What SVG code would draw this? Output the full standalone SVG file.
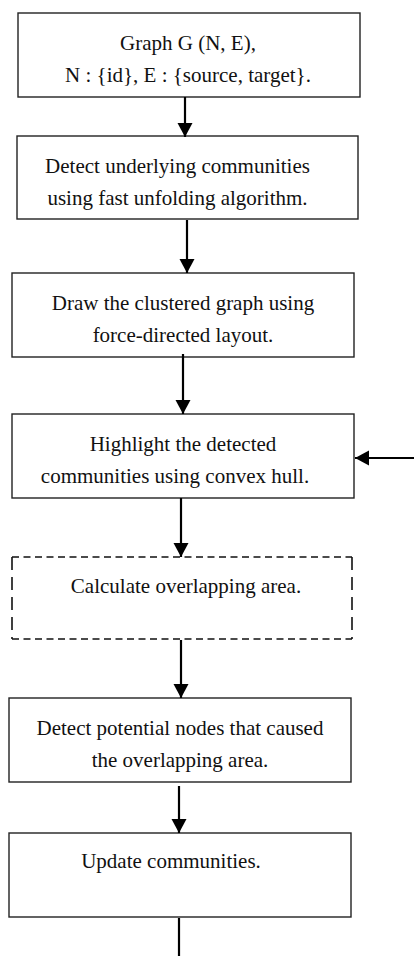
<svg xmlns="http://www.w3.org/2000/svg" width="414" height="956" viewBox="0 0 414 956">
<defs>
<marker id="ah" markerUnits="userSpaceOnUse" markerWidth="16" markerHeight="16" refX="14" refY="8" orient="auto">
<path d="M0,0.5 L14,8 L0,15.5 Z" fill="#000"/>
</marker>
<style>
.box{fill:#fff;stroke:#222;stroke-width:1.4}
.dash{stroke:#111;stroke-width:1.6;fill:none}
.t{font-family:"Liberation Serif","Times New Roman",serif;font-size:21px;fill:#111;text-anchor:middle}
.c{stroke:#000;stroke-width:2.2;fill:none}
.ca{stroke:#000;stroke-width:2.2;fill:none;marker-end:url(#ah)}
</style>
</defs>
<rect width="414" height="956" fill="#fff"/>
<g id="n1">
<rect class="box" x="18" y="13" width="342" height="84"/>
<text class="t" x="188" y="50">Graph G (N, E),</text>
<text class="t" x="188" y="82">N : {id}, E : {source, target}.</text>
</g>
<g id="n2">
<rect class="box" x="17" y="136" width="341" height="83"/>
<text class="t" x="177.5" y="173">Detect underlying communities</text>
<text class="t" x="177.5" y="205">using fast unfolding algorithm.</text>
</g>
<g id="n3">
<rect class="box" x="12" y="273" width="342" height="84"/>
<text class="t" x="183" y="310">Draw the clustered graph using</text>
<text class="t" x="183" y="342">force-directed layout.</text>
</g>
<g id="n4">
<rect class="box" x="12" y="414" width="342" height="84"/>
<text class="t" x="183" y="451">Highlight the detected</text>
<text class="t" x="175" y="483">communities using convex hull.</text>
</g>
<g id="n5">
<line class="dash" x1="12" y1="557" x2="352" y2="557" stroke-dasharray="7,4.5"/>
<line class="dash" x1="12" y1="639" x2="352" y2="639" stroke-dasharray="7,4.5"/>
<line class="dash" x1="12" y1="557" x2="12" y2="639" stroke-dasharray="13,7"/>
<line class="dash" x1="352" y1="557" x2="352" y2="639" stroke-dasharray="13,7"/>
<text class="t" x="186" y="593">Calculate overlapping area.</text>
</g>
<g id="n6">
<rect class="box" x="9" y="698" width="342" height="84"/>
<text class="t" x="180" y="735">Detect potential nodes that caused</text>
<text class="t" x="180" y="767">the overlapping area.</text>
</g>
<g id="n7">
<rect class="box" x="9" y="833" width="342" height="84"/>
<text class="t" x="171" y="868">Update communities.</text>
</g>
<g id="connectors">
<line class="ca" x1="185" y1="97" x2="185" y2="137"/>
<line class="ca" x1="187" y1="220" x2="187" y2="273"/>
<line class="ca" x1="183" y1="354" x2="183" y2="414"/>
<line class="ca" x1="181" y1="498" x2="181" y2="557"/>
<line class="ca" x1="181" y1="640" x2="181" y2="698"/>
<line class="ca" x1="179" y1="786" x2="179" y2="833"/>
<line class="c" x1="179" y1="918" x2="179" y2="956"/>
<line class="ca" x1="414" y1="458" x2="355" y2="458"/>
</g>
</svg>
